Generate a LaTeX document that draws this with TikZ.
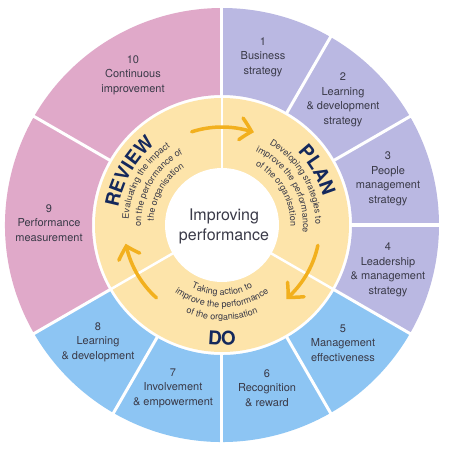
\documentclass[tikz,border=0pt]{standalone}
\usepackage{fontspec}
\setmainfont{TeX Gyre Heros}
\usepackage{xcolor}
\usetikzlibrary{arrows.meta, bending, decorations.text}

\definecolor{pinkseg}{HTML}{E0A9C9}
\definecolor{purpleseg}{HTML}{BAB8E2}
\definecolor{blueseg}{HTML}{8DC5F3}
\definecolor{cycleyellow}{HTML}{FDE4AA}
\definecolor{arrowgold}{HTML}{F2B01E}
\definecolor{phasenavy}{HTML}{14285C}
\definecolor{labelgrey}{HTML}{3A3A48}

\tikzset{
    labelnode/.style = {draw=none, fill=none, rectangle, inner sep=0em, align=center,
      text=labelgrey, font=\fontsize{11}{14.5}\selectfont},
    hubnode/.style = {draw=none, fill=none, rectangle, inner sep=0em, align=center,
      text=labelgrey, font=\fontsize{16}{20}\selectfont},
    cyclearrow/.style = {arrowgold, line width=3.5pt, line cap=round,
      -{Straight Barb[bend, length=11pt, width=22pt, line cap=round]}},
    arctext/.style = {decorate, decoration={text along path, text align=center,
      text color=labelgrey, text={|\fontsize{9}{10}\selectfont|#1}}},
    phasetext/.style = {decorate, decoration={text along path, text align=center,
      text color=phasenavy, text={|\fontsize{19}{22}\selectfont\bfseries|#1}}},
    divider/.style = {white, line width=3pt}
}

\begin{document}
\begin{tikzpicture}[x=1pt, y=1pt]
    \fill[white] (-222,-225) rectangle (228,225);
    \useasboundingbox (-222,-225) rectangle (228,225);

    \fill[pinkseg] (90:130pt) arc[start angle=90, end angle=210, radius=130pt]
        -- (210:217pt) arc[start angle=210, end angle=90, radius=217pt] -- cycle;
    \fill[purpleseg] (-30:130pt) arc[start angle=-30, end angle=90, radius=130pt]
        -- (90:217pt) arc[start angle=90, end angle=-30, radius=217pt] -- cycle;
    \fill[blueseg] (210:130pt) arc[start angle=210, end angle=330, radius=130pt]
        -- (330:217pt) arc[start angle=330, end angle=210, radius=217pt] -- cycle;
    \foreach \a in {90,60,30,0,-30,-60,-90,-120,-150,150}
        \draw[divider] (\a:128pt) -- (\a:222pt);

    \fill[cycleyellow] (0,0) circle[radius=127pt];
    \fill[white] (0,0) circle[radius=57pt];
    \foreach \a in {90,-30,210}
        \draw[divider, line width=2.5pt] (\a:55pt) -- (\a:128pt);

    \draw[cyclearrow] (108:98pt) arc[start angle=108, end angle=71, radius=98pt];
    \draw[cyclearrow] (-12:98pt) arc[start angle=-12, end angle=-49, radius=98pt];
    \draw[cyclearrow] (228:98pt) arc[start angle=228, end angle=191, radius=98pt];

    \path[phasetext={REVIEW}] (200:105pt) arc[start angle=200, end angle=100, radius=105pt];
    \path[arctext={Evaluating the impact}] (200:93.5pt) arc[start angle=200, end angle=100, radius=93.5pt];
    \path[arctext={on the performance of}] (200:81pt) arc[start angle=200, end angle=100, radius=81pt];
    \path[arctext={the organisation}] (200:68.5pt) arc[start angle=200, end angle=100, radius=68.5pt];

    \path[phasetext={PLAN}] (80:105pt) arc[start angle=80, end angle=-20, radius=105pt];
    \path[arctext={Developing strategies to}] (80:93.5pt) arc[start angle=80, end angle=-20, radius=93.5pt];
    \path[arctext={improve the performance}] (80:81pt) arc[start angle=80, end angle=-20, radius=81pt];
    \path[arctext={of the organisation}] (80:68.5pt) arc[start angle=80, end angle=-20, radius=68.5pt];

    \path[arctext={Taking action to}] (220:70pt) arc[start angle=220, end angle=320, radius=70pt];
    \path[arctext={improve the performance}] (220:82.5pt) arc[start angle=220, end angle=320, radius=82.5pt];
    \path[arctext={of the organisation}] (220:95pt) arc[start angle=220, end angle=320, radius=95pt];
    \path[phasetext={DO}] (240:120pt) arc[start angle=240, end angle=300, radius=120pt];

    \node [name=hub, hubnode] at (2,-1) {Improving\\performance};

    \node [name=seg1, labelnode] at (41,168) {1\\Business\\strategy};
    \node [name=seg2, labelnode] at (121,125) {2\\Learning\\\& development\\strategy};
    \node [name=seg3, labelnode] at (166,46) {3\\People\\management\\strategy};
    \node [name=seg4, labelnode] at (166,-45) {4\\Leadership\\\& management\\strategy};
    \node [name=seg5, labelnode] at (121,-118) {5\\Management\\effectiveness};
    \node [name=seg6, labelnode] at (45,-163) {6\\Recognition\\\& reward};
    \node [name=seg7, labelnode] at (-49,-163) {7\\Involvement\\\& empowerment};
    \node [name=seg8, labelnode] at (-124,-117) {8\\Learning\\\& development};
    \node [name=seg9, labelnode] at (-173,2) {9\\Performance\\measurement};
    \node [name=seg10, labelnode] at (-89,150) {10\\Continuous\\improvement};
\end{tikzpicture}
\end{document}
